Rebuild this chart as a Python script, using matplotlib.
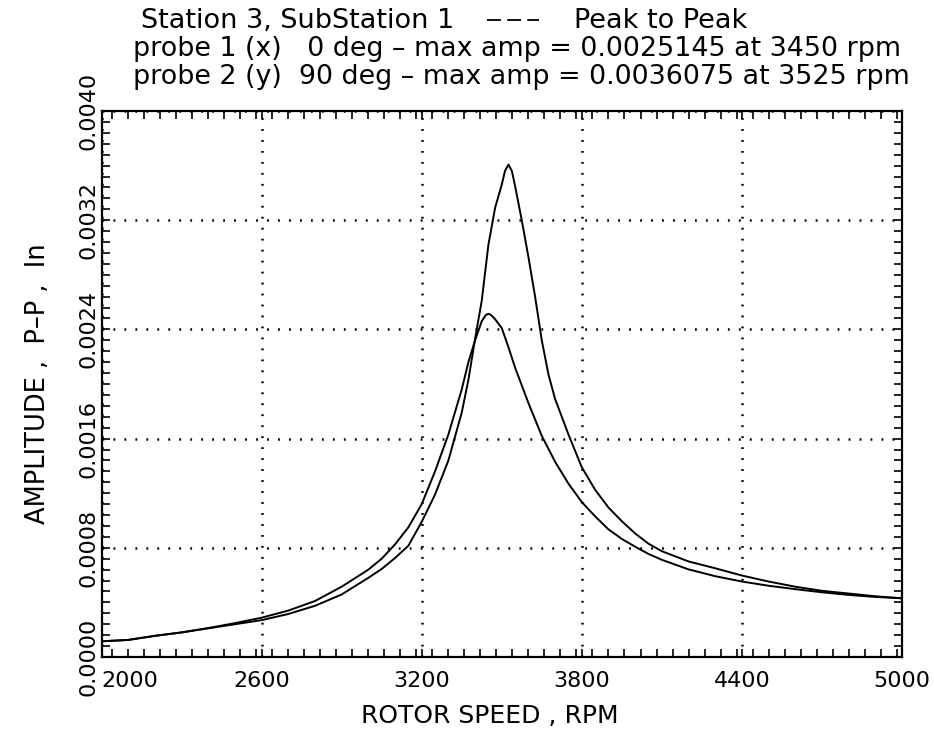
import matplotlib
matplotlib.use("Agg")
import matplotlib.pyplot as plt
from matplotlib.lines import Line2D
from matplotlib.ticker import MultipleLocator, FuncFormatter

plt.rcParams['font.family'] = ['DejaVu Sans']
plt.rcParams['lines.scale_dashes'] = False

rpm_probe1 = [2000, 2100, 2200, 2300, 2400, 2500, 2600, 2700, 2800, 2900, 3000, 3050,
              3100, 3150, 3200, 3250, 3300, 3350, 3375, 3400, 3425, 3440, 3450, 3460,
              3475, 3500, 3525, 3550, 3575, 3600, 3650, 3700, 3750, 3800, 3850, 3900,
              3950, 4000, 4050, 4100, 4200, 4300, 4400, 4500, 4600, 4700, 4800, 4900,
              5000]
amp_probe1 = [0.000115, 0.000125, 0.000155, 0.000180, 0.000212, 0.000248, 0.000288,
              0.000340, 0.000410, 0.000515, 0.000640, 0.000720, 0.000825, 0.000950,
              0.001120, 0.001360, 0.001630, 0.001960, 0.002160, 0.002320, 0.002460,
              0.002505, 0.0025145, 0.002505, 0.002475, 0.002410, 0.002270, 0.002120,
              0.001990, 0.001860, 0.001620, 0.001430, 0.001270, 0.001135, 0.001030,
              0.000935, 0.000865, 0.000808, 0.000755, 0.000712, 0.000642, 0.000592,
              0.000553, 0.000522, 0.000497, 0.000474, 0.000455, 0.000440, 0.000430]

rpm_probe2 = [2000, 2100, 2200, 2300, 2400, 2500, 2600, 2700, 2800, 2900, 3000, 3050,
              3100, 3150, 3200, 3250, 3300, 3350, 3375, 3400, 3425, 3450, 3475, 3500,
              3512, 3525, 3538, 3550, 3575, 3600, 3625, 3650, 3675, 3700, 3750, 3800,
              3850, 3900, 3950, 4000, 4050, 4100, 4200, 4300, 4400, 4500, 4600, 4700,
              4800, 4900, 5000]
amp_probe2 = [0.000115, 0.000125, 0.000155, 0.000180, 0.000210, 0.000240, 0.000270,
              0.000315, 0.000375, 0.000458, 0.000580, 0.000645, 0.000725, 0.000815,
              0.000990, 0.001190, 0.001440, 0.001790, 0.002030, 0.002330, 0.002610,
              0.003020, 0.003290, 0.003460, 0.003560, 0.0036075, 0.003560, 0.003450,
              0.003200, 0.002930, 0.002640, 0.002320, 0.002070, 0.001890, 0.001630,
              0.001390, 0.001225, 0.001095, 0.000995, 0.000905, 0.000830, 0.000775,
              0.000700, 0.000650, 0.000597, 0.000553, 0.000515, 0.000485, 0.000465,
              0.000445, 0.000430]

x_ticks = [2000, 2600, 3200, 3800, 4400, 5000]
y_ticks = [0.0000, 0.0008, 0.0016, 0.0024, 0.0032, 0.0040]

title1_left = "Station 3, SubStation 1"
title1_right = "Peak to Peak"
title2 = "probe 1 (x)   0 deg \u2013 max amp = 0.0025145 at 3450 rpm"
title3 = "probe 2 (y)  90 deg \u2013 max amp = 0.0036075 at 3525 rpm"

W, H = 934, 731
fig = plt.figure(figsize=(W / 100, H / 100), dpi=100)
ax = fig.add_axes([101.5 / W, 1 - 657 / H, (902 - 101.5) / W, (657 - 111) / H])

ax.plot(rpm_probe1, amp_probe1, color='black', lw=1.4)
ax.plot(rpm_probe2, amp_probe2, color='black', lw=1.4)

ax.set_xlim(2000, 5000)
ax.set_ylim(0, 0.004)
ax.set_xticks(x_ticks)
ax.set_yticks(y_ticks)
ax.xaxis.set_minor_locator(MultipleLocator(60))
ax.yaxis.set_minor_locator(MultipleLocator(0.00008))
ax.yaxis.set_major_formatter(FuncFormatter(lambda v, p: f"{v:.4f}"))
ax.tick_params(which='both', direction='in', top=True, right=True,
               length=6, width=1.2, color='black')
ax.tick_params(axis='x', labelsize=16, pad=10)
ax.tick_params(axis='y', labelsize=16, pad=2, labelrotation=90)
for lab in ax.get_yticklabels():
    lab.set_va('center')
xl = ax.get_xticklabels()
xl[0].set_ha('left')

for s in ax.spines.values():
    s.set_linewidth(1.6)

ax.grid(True, which='major', color='black', linestyle=(0, (1.3, 6.6)), linewidth=1.8)

ax.set_xlabel("ROTOR SPEED , RPM", fontsize=18)
ax.xaxis.set_label_coords(0.485, -0.086)
ax.set_ylabel("AMPLITUDE ,  P\u2013P ,  In", fontsize=18.5)
ax.yaxis.set_label_coords(-0.063, 0.5)

fig.text(141 / W, 1 - 28 / H, title1_left, fontsize=19.5, ha='left', va='baseline')
fig.add_artist(Line2D([487 / W, 539 / W], [1 - 20 / H, 1 - 20 / H], color='black',
                      lw=1.3, linestyle=(0, (10, 4.5)), transform=fig.transFigure))
fig.text(574 / W, 1 - 28 / H, title1_right, fontsize=19.5, ha='left', va='baseline')
fig.text(133 / W, 1 - 56 / H, title2, fontsize=19.4, ha='left', va='baseline')
fig.text(133 / W, 1 - 84 / H, title3, fontsize=19.4, ha='left', va='baseline')

fig.savefig("out.png", dpi=100)
